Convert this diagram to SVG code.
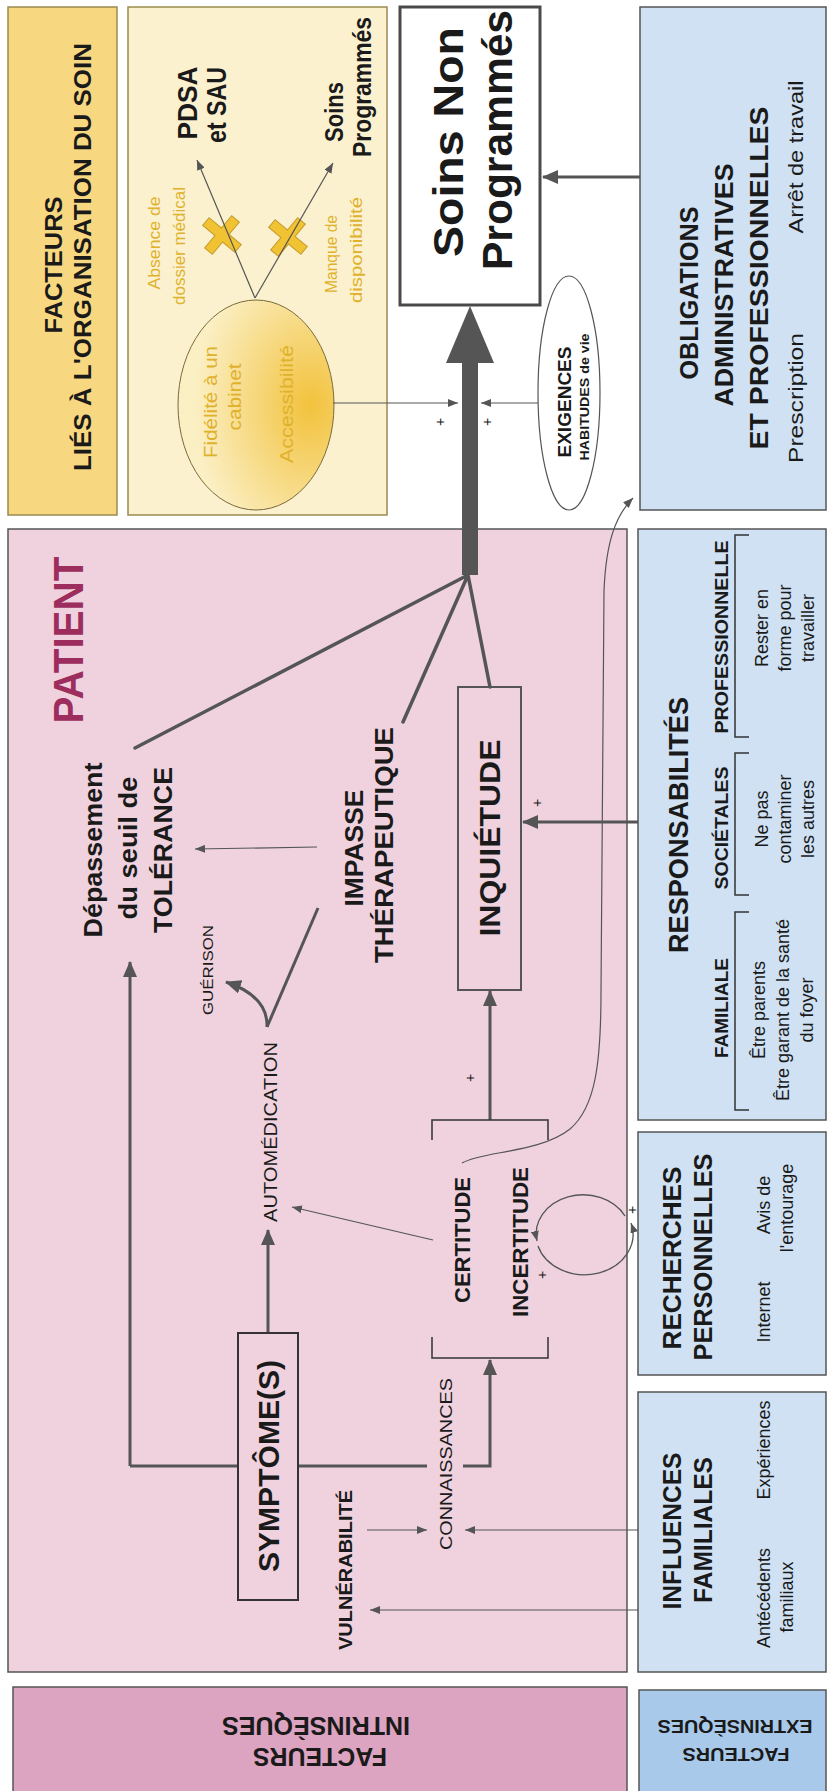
<svg xmlns="http://www.w3.org/2000/svg" width="830" height="1791" viewBox="0 0 830 1791">
<defs>
<style>
text{font-family:"Liberation Sans",Arial,Helvetica,sans-serif;fill:#1a1a1a;text-anchor:middle}
.b{font-weight:bold}
.y{fill:#e0b12c}
.box{stroke:#555;stroke-width:1.5}
.ln{stroke:#555;fill:none}
.t1{stroke-width:1.2}
.t3{stroke-width:3}
.br{stroke:#333;stroke-width:1.5;fill:none}
</style>
<marker id="ah" viewBox="0 0 10 8" refX="10" refY="4" markerWidth="10" markerHeight="8" orient="auto" markerUnits="userSpaceOnUse"><path d="M0,0 L10,4 L0,8 z" fill="#555"/></marker>
<marker id="AH" viewBox="0 0 16 14" refX="15" refY="7" markerWidth="16" markerHeight="14" orient="auto" markerUnits="userSpaceOnUse"><path d="M0,0 L16,7 L0,14 z" fill="#555"/></marker>
<radialGradient id="gy" cx="0.5" cy="0.85" r="0.75"><stop offset="0" stop-color="#f2c23c"/><stop offset="1" stop-color="#fbefc4"/></radialGradient>
<path id="cross" d="M-5,-21 h10 v16 h16 v10 h-16 v16 h-10 v-16 h-16 v-10 h16 z" fill="#f1c232" stroke="#c39c2c" stroke-width="1"/>
</defs>
<rect width="830" height="1791" fill="#ffffff"/>
<g transform="matrix(0,-1,1,0,0,1791)">
<g id="org-header">
<rect x="1276" y="8" width="508" height="109" fill="#f7d77f" stroke="#9a8a50" stroke-width="1.5"/>
<text class="b" x="1526" y="62" font-size="24" textLength="137" lengthAdjust="spacingAndGlyphs">FACTEURS</text>
<text class="b" x="1534" y="91" font-size="24" textLength="428" lengthAdjust="spacingAndGlyphs">LIÉS À L'ORGANISATION DU SOIN</text>
</g>
<g id="org-box">
<rect x="1276" y="128" width="508" height="259" fill="#fbf1cf" stroke="#9a8a50" stroke-width="1.5"/>
<text class="y" x="1548" y="160" font-size="17" textLength="93" lengthAdjust="spacingAndGlyphs">Absence de</text>
<text class="y" x="1545" y="185" font-size="17" textLength="118" lengthAdjust="spacingAndGlyphs">dossier médical</text>
<text class="y" x="1537" y="337" font-size="17" textLength="78" lengthAdjust="spacingAndGlyphs">Manque de</text>
<text class="y" x="1541" y="362" font-size="17" textLength="106" lengthAdjust="spacingAndGlyphs">disponibilité</text>
<use href="#cross" transform="translate(1556,222) rotate(40)"/>
<use href="#cross" transform="translate(1554,288) rotate(40)"/>
</g>
<g id="ellipse-cabinet">
<ellipse cx="1386" cy="256" rx="105" ry="78" fill="url(#gy)" stroke="#7a6a3a" stroke-width="1"/>
<text class="y" x="1389" y="217" font-size="18" textLength="112" lengthAdjust="spacingAndGlyphs">Fidélité à un</text>
<text class="y" x="1394" y="241" font-size="18" textLength="67" lengthAdjust="spacingAndGlyphs">cabinet</text>
<text class="y" x="1387" y="293" font-size="18" textLength="118" lengthAdjust="spacingAndGlyphs">Accessibilité</text>
</g>
<g id="pdsa">
<text class="b" x="1688" y="197" font-size="28" textLength="73" lengthAdjust="spacingAndGlyphs">PDSA</text>
<text class="b" x="1686" y="226" font-size="28" textLength="76" lengthAdjust="spacingAndGlyphs">et SAU</text>
</g>
<g id="soins-programmes">
<text class="b" x="1679" y="343" font-size="26" textLength="60" lengthAdjust="spacingAndGlyphs">Soins</text>
<text class="b" x="1704" y="371" font-size="26" textLength="140" lengthAdjust="spacingAndGlyphs">Programmés</text>
</g>
<g id="snp">
<rect x="1486" y="400" width="298" height="140" fill="#ffffff" stroke="#4a4a4a" stroke-width="3"/>
<text class="b" x="1649" y="463" font-size="42" textLength="230" lengthAdjust="spacingAndGlyphs">Soins Non</text>
<text class="b" x="1651" y="512" font-size="42" textLength="260" lengthAdjust="spacingAndGlyphs">Programmés</text>
</g>
<g id="exigences">
<ellipse cx="1398" cy="569" rx="117" ry="31" fill="#ffffff" stroke="#555" stroke-width="1.2"/>
<text class="b" x="1389" y="571" font-size="19" textLength="111" lengthAdjust="spacingAndGlyphs">EXIGENCES</text>
<text class="b" x="1394" y="589" font-size="12" textLength="127" lengthAdjust="spacingAndGlyphs">HABITUDES de vie</text>
</g>
<g id="obligations">
<rect class="box" x="1281" y="640" width="503" height="186" fill="#cfe1f3"/>
<text class="b" x="1498" y="698" font-size="25" textLength="173" lengthAdjust="spacingAndGlyphs">OBLIGATIONS</text>
<text class="b" x="1506" y="733" font-size="25" textLength="243" lengthAdjust="spacingAndGlyphs">ADMINISTRATIVES</text>
<text class="b" x="1513" y="768" font-size="25" textLength="343" lengthAdjust="spacingAndGlyphs">ET PROFESSIONNELLES</text>
<text x="1393" y="803" font-size="20" textLength="130" lengthAdjust="spacingAndGlyphs">Prescription</text>
<text x="1634" y="803" font-size="20" textLength="153" lengthAdjust="spacingAndGlyphs">Arrêt de travail</text>
</g>
<g id="patient">
<rect x="119" y="8" width="1143" height="619" fill="#efd2de" stroke="#555" stroke-width="1.5"/>
<text class="b" x="1151" y="83" font-size="42" style="fill:#9c2d5d" textLength="167" lengthAdjust="spacingAndGlyphs">PATIENT</text>
</g>
<g id="intrinseques-box">
<rect x="-5" y="13" width="109" height="614" fill="#dca4c1" stroke="#555" stroke-width="1.5"/>
</g>
<g id="extrinseques-box">
<rect class="box" x="-5" y="639" width="106" height="187" fill="#a9c9ea"/>
</g>
<g id="responsabilites">
<rect class="box" x="671" y="638" width="591" height="188" fill="#cfe1f3"/>
<text class="b" x="966" y="688" font-size="27" textLength="256" lengthAdjust="spacingAndGlyphs">RESPONSABILITÉS</text>
<text class="b" x="1154" y="728" font-size="19" textLength="193" lengthAdjust="spacingAndGlyphs">PROFESSIONNELLE</text>
<text class="b" x="963" y="728" font-size="19" textLength="123" lengthAdjust="spacingAndGlyphs">SOCIÉTALES</text>
<text class="b" x="783" y="728" font-size="19" textLength="100" lengthAdjust="spacingAndGlyphs">FAMILIALE</text>
<path class="br" d="M1054,749 L1054,735 L1256,735 L1256,749"/>
<path class="br" d="M896,749 L896,735 L1038,735 L1038,749"/>
<path class="br" d="M681,749 L681,735 L879,735 L879,749"/>
<text x="1163" y="768" font-size="18">Rester en</text>
<text x="1163" y="791" font-size="18">forme pour</text>
<text x="1163" y="814" font-size="18">travailler</text>
<text x="972" y="768" font-size="18">Ne pas</text>
<text x="972" y="791" font-size="18">contaminer</text>
<text x="972" y="814" font-size="18">les autres</text>
<text x="781" y="765" font-size="18">Être parents</text>
<text x="781" y="789" font-size="18">Être garant de la santé</text>
<text x="781" y="813" font-size="18">du foyer</text>
</g>
<g id="recherches">
<rect class="box" x="416" y="638" width="243" height="188" fill="#cfe1f3"/>
<text class="b" x="533" y="681" font-size="25" textLength="183" lengthAdjust="spacingAndGlyphs">RECHERCHES</text>
<text class="b" x="534" y="712" font-size="25" textLength="207" lengthAdjust="spacingAndGlyphs">PERSONNELLES</text>
<text x="479" y="770" font-size="18">Internet</text>
<text x="586" y="770" font-size="18">Avis de</text>
<text x="583" y="793" font-size="18">l'entourage</text>
</g>
<g id="influences">
<rect class="box" x="119" y="638" width="280" height="188" fill="#cfe1f3"/>
<text class="b" x="260" y="681" font-size="25" textLength="157" lengthAdjust="spacingAndGlyphs">INFLUENCES</text>
<text class="b" x="261" y="712" font-size="25" textLength="146" lengthAdjust="spacingAndGlyphs">FAMILIALES</text>
<text x="193" y="770" font-size="18">Antécédents</text>
<text x="194" y="793" font-size="18">familiaux</text>
<text x="341" y="770" font-size="18">Expériences</text>
</g>
<g id="connectors">
<path class="ln t1" d="M1493,255 L1631,197" marker-end="url(#ah)"/>
<path class="ln t1" d="M1493,255 L1628,333" marker-end="url(#ah)"/>
<rect x="1216" y="462" width="214" height="16" fill="#555"/>
<polygon points="1428,446 1485,470 1428,494" fill="#555"/>
<path class="ln" stroke-width="3.5" stroke-linecap="round" d="M1043,135 L1216,468 M1069,403 L1216,468 M1104,490 L1216,468"/>
<path class="ln t1" d="M1388,333 L1388,458" marker-end="url(#ah)"/>
<path class="ln t1" d="M1388,538 L1388,481" marker-end="url(#ah)"/>
<path class="ln t3" d="M1614,640 L1614,543" marker-end="url(#AH)"/>
<path class="ln t1" d="M944,317 L942,195" marker-end="url(#ah)"/>
<path class="ln t3" d="M883,318 L764,267"/>
<path class="ln t3" d="M764,267 Q795,268 809,226" marker-end="url(#AH)"/>
<path class="ln t3" d="M969,638 L969,523" marker-end="url(#AH)"/>
<path class="ln t3" d="M671,490 L800,490" marker-end="url(#AH)"/>
<path class="ln t3" d="M325,130 L829,130" marker-end="url(#AH)"/>
<path class="ln t3" d="M325,130 L325,427"/>
<path class="ln t3" d="M325,463 L325,490 L431,490" marker-end="url(#AH)"/>
<path class="ln t3" d="M458,268 L561,268" marker-end="url(#AH)"/>
<path class="ln t1" d="M551,433 L584,292" marker-end="url(#ah)"/>
<path class="ln t1" d="M181,638 L181,370" marker-end="url(#ah)"/>
<path class="ln t1" d="M261,638 L261,465" marker-end="url(#ah)"/>
<path class="ln t1" d="M261,367 L261,427" marker-end="url(#ah)"/>
<path class="ln t1" d="M628,462 C640,482 638,540 662,570 C684,596 730,601 800,601 L1200,604 C1250,606 1276,616 1293,633" marker-end="url(#ah)"/>
<path class="ln" stroke-width="1.3" d="M575,625 A39,47 0 0 0 550,537" marker-end="url(#ah)"/>
<path class="ln" stroke-width="1.3" d="M545,538 A39,47 0 1 0 568,631" marker-end="url(#ah)"/>
<path class="br" d="M651,432 L671,432 L671,548 L651,548"/>
<path class="br" d="M454,432 L433,432 L433,548 L454,548"/>
<text x="1369" y="445" font-size="14">+</text>
<text x="1369" y="492" font-size="14">+</text>
<text x="988" y="542" font-size="14">+</text>
<text x="713" y="475" font-size="14">+</text>
<text x="516" y="547" font-size="14">+</text>
<text x="581" y="637" font-size="14">+</text>
</g>
<g id="depassement">
<text class="b" x="941" y="102" font-size="25" textLength="175" lengthAdjust="spacingAndGlyphs">Dépassement</text>
<text class="b" x="943" y="137" font-size="25" textLength="143" lengthAdjust="spacingAndGlyphs">du seuil de</text>
<text class="b" x="941" y="172" font-size="25" textLength="166" lengthAdjust="spacingAndGlyphs">TOLÉRANCE</text>
</g>
<g id="impasse">
<text class="b" x="943" y="363" font-size="26" textLength="117" lengthAdjust="spacingAndGlyphs">IMPASSE</text>
<text class="b" x="946" y="393" font-size="26" textLength="236" lengthAdjust="spacingAndGlyphs">THÉRAPEUTIQUE</text>
</g>
<g id="guerison">
<text x="821" y="213" font-size="14" textLength="90" lengthAdjust="spacingAndGlyphs">GUÉRISON</text>
</g>
<g id="inquietude">
<rect x="801" y="458" width="303" height="63" fill="none" stroke="#555" stroke-width="2"/>
<text class="b" x="953" y="500" font-size="30" textLength="197" lengthAdjust="spacingAndGlyphs">INQUIÉTUDE</text>
</g>
<g id="certitude">
<text class="b" x="551" y="470" font-size="22" textLength="126" lengthAdjust="spacingAndGlyphs">CERTITUDE</text>
<text class="b" x="549" y="528" font-size="22" textLength="150" lengthAdjust="spacingAndGlyphs">INCERTITUDE</text>
</g>
<g id="symptomes">
<rect x="191" y="238" width="267" height="60" fill="#efd2de" stroke="#333" stroke-width="2"/>
<text class="b" x="325" y="279" font-size="30" textLength="212" lengthAdjust="spacingAndGlyphs">SYMPTÔME(S)</text>
</g>
<g id="automedication">
<text x="659" y="277" font-size="18" textLength="180" lengthAdjust="spacingAndGlyphs">AUTOMÉDICATION</text>
</g>
<g id="connaissances">
<text x="327" y="452" font-size="17" textLength="172" lengthAdjust="spacingAndGlyphs">CONNAISSANCES</text>
</g>
<g id="vulnerabilite">
<text class="b" x="221" y="352" font-size="19" textLength="160" lengthAdjust="spacingAndGlyphs">VULNÉRABILITÉ</text>
</g>
</g>
<g id="intrinseques-label">
<text class="b" x="316" y="1717" font-size="25" textLength="188" lengthAdjust="spacingAndGlyphs" transform="rotate(180 316 1717)">INTRINSÈQUES</text>
<text class="b" x="320" y="1748" font-size="25" textLength="134" lengthAdjust="spacingAndGlyphs" transform="rotate(180 320 1748)">FACTEURS</text>
</g>
<g id="extrinseques-label">
<text class="b" x="735" y="1720" font-size="19" textLength="155" lengthAdjust="spacingAndGlyphs" transform="rotate(180 735 1720)">EXTRINSÈQUES</text>
<text class="b" x="736" y="1748" font-size="19" textLength="107" lengthAdjust="spacingAndGlyphs" transform="rotate(180 736 1748)">FACTEURS</text>
</g>
</svg>
